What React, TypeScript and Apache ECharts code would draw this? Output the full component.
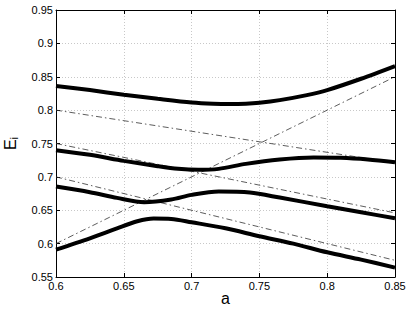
import React, { useEffect, useRef } from "react";
import * as echarts from "echarts";

const curve1X = [0.6, 0.625, 0.65, 0.675, 0.7, 0.716, 0.728, 0.74, 0.75, 0.765, 0.785, 0.8, 0.825, 0.85];
const curve1Y = [0.836, 0.830, 0.823, 0.817, 0.8115, 0.8095, 0.809, 0.8095, 0.811, 0.815, 0.8225, 0.830, 0.847, 0.866];

const curve2X = [0.6, 0.625, 0.65, 0.675, 0.69, 0.705, 0.72, 0.74, 0.765, 0.79, 0.81, 0.83, 0.85];
const curve2Y = [0.740, 0.733, 0.724, 0.716, 0.712, 0.7105, 0.712, 0.7195, 0.726, 0.729, 0.7285, 0.726, 0.722];

const curve3X = [0.6, 0.625, 0.645, 0.665, 0.685, 0.7, 0.72, 0.743, 0.765, 0.8, 0.825, 0.85];
const curve3Y = [0.6855, 0.677, 0.6685, 0.662, 0.666, 0.673, 0.678, 0.6765, 0.669, 0.656, 0.647, 0.638];

const curve4X = [0.6, 0.625, 0.645, 0.66, 0.672, 0.685, 0.7, 0.725, 0.75, 0.775, 0.8, 0.825, 0.85];
const curve4Y = [0.591, 0.608, 0.623, 0.6335, 0.6375, 0.637, 0.632, 0.623, 0.611, 0.600, 0.587, 0.576, 0.564];

const diabX = [0.6, 0.85];
const diab1Y = [0.80, 0.721];
const diab2Y = [0.75, 0.646];
const diab3Y = [0.70, 0.575];
const diab4Y = [0.60, 0.85];

const xTicks = ["0.6", "0.65", "0.7", "0.75", "0.8", "0.85"];
const yTicks = ["0.55", "0.6", "0.65", "0.7", "0.75", "0.8", "0.85", "0.9", "0.95"];

const zip = (xs: number[], ys: number[]) => xs.map((x, i) => [x, ys[i]]);

export default function App() {
  const ref = useRef<HTMLDivElement>(null);
  useEffect(() => {
    if (!ref.current) return;
    const chart = echarts.init(ref.current, null, { renderer: "svg" });
    const font = "'Liberation Sans', Arial, sans-serif";
    const solid = (xs: number[], ys: number[]) => ({
      type: "line",
      data: zip(xs, ys),
      smooth: 0.3,
      showSymbol: false,
      lineStyle: { color: "#000", width: 4 },
      z: 3,
    });
    const dash = (ys: number[]) => ({
      type: "line",
      data: zip(diabX, ys),
      showSymbol: false,
      lineStyle: { color: "#333", width: 0.8, type: [6, 3, 1.5, 3] },
      z: 2,
    });
    const tick = { show: true, inside: true, length: 4, lineStyle: { color: "#000" } };
    const gridLine = { show: true, lineStyle: { color: "#c8c8c8", type: [1, 2], width: 1 } };
    chart.setOption({
      animation: false,
      backgroundColor: "#fff",
      grid: { left: 56, right: 14, top: 10, bottom: 32, outerBoundsMode: "none", containLabel: false },
      xAxis: [
        {
          type: "value",
          min: 0.6,
          max: 0.85,
          interval: 0.05,
          name: "a",
          nameLocation: "middle",
          nameGap: 13,
          nameMoveOverlap: false,
          nameTextStyle: { fontFamily: font, fontSize: 16, lineHeight: 16, color: "#000" },
          axisLine: { show: true, lineStyle: { color: "#000", width: 1 } },
          axisTick: tick,
          axisLabel: {
            fontFamily: font,
            fontSize: 11,
            color: "#000",
            margin: 3,
            formatter: (v: number) => xTicks[Math.round((v - 0.6) / 0.05)] ?? "",
          },
          splitLine: gridLine,
        },
        {
          type: "value",
          position: "top",
          min: 0.6,
          max: 0.85,
          interval: 0.05,
          axisLine: { show: true, lineStyle: { color: "#000", width: 1 } },
          axisTick: tick,
          axisLabel: { show: false },
          splitLine: { show: false },
        },
      ],
      yAxis: [
        {
          type: "value",
          min: 0.55,
          max: 0.95,
          interval: 0.05,
          name: "{e|E}{s|i}",
          nameLocation: "middle",
          nameGap: 37,
          nameRotate: 90,
          nameTextStyle: {
            fontFamily: font,
            color: "#000",
            rich: {
              e: { fontFamily: font, fontSize: 16, color: "#000" },
              s: { fontFamily: font, fontSize: 11, color: "#000", padding: [7, 0, 0, 0] },
            },
          },
          axisLine: { show: true, lineStyle: { color: "#000", width: 1 } },
          axisTick: tick,
          axisLabel: {
            fontFamily: font,
            fontSize: 11,
            color: "#000",
            margin: 3,
            formatter: (v: number) => yTicks[Math.round((v - 0.55) / 0.05)] ?? "",
          },
          splitLine: gridLine,
        },
        {
          type: "value",
          position: "right",
          min: 0.55,
          max: 0.95,
          interval: 0.05,
          axisLine: { show: true, lineStyle: { color: "#000", width: 1 } },
          axisTick: tick,
          axisLabel: { show: false },
          splitLine: { show: false },
        },
      ],
      series: [
        dash(diab1Y),
        dash(diab2Y),
        dash(diab3Y),
        dash(diab4Y),
        solid(curve1X, curve1Y),
        solid(curve2X, curve2Y),
        solid(curve3X, curve3Y),
        solid(curve4X, curve4Y),
      ],
    });
    return () => chart.dispose();
  }, []);
  return <div ref={ref} style={{ width: 409, height: 309, position: "absolute", left: 0, top: 0 }} />;
}
